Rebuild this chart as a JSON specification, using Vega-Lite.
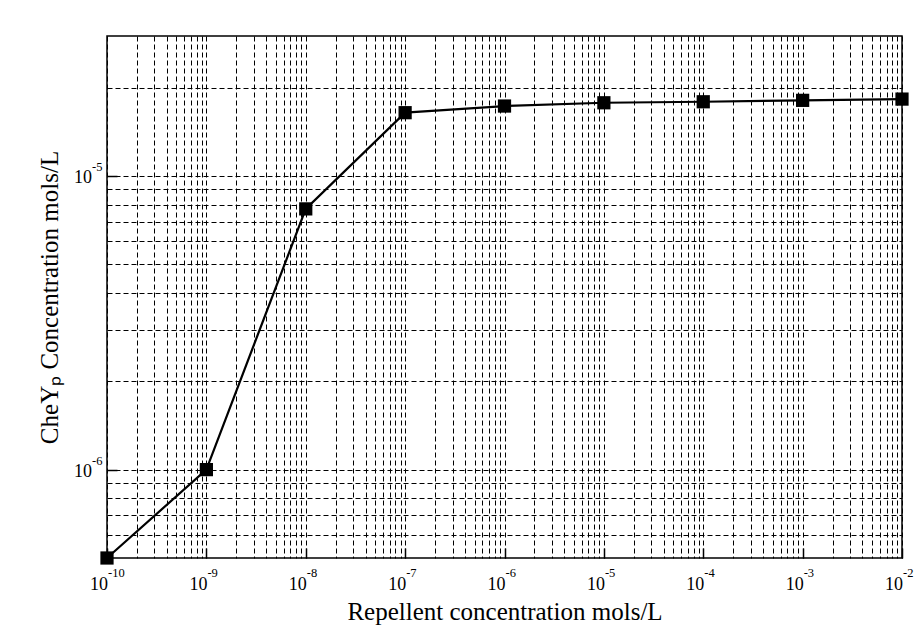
{
  "$schema": "https://vega.github.io/schema/vega-lite/v6.json",
  "width": 795,
  "height": 522,
  "autosize": {"type": "none"},
  "padding": {"left": 107, "top": 36, "right": 13, "bottom": 68},
  "background": "white",
  "config": {
    "view": {"stroke": "black", "strokeWidth": 1.5},
    "font": "Liberation Serif"
  },
  "datasets": {
    "curve": [
      {"conc": 1e-10, "chey": 5.0e-7},
      {"conc": 1e-9, "chey": 1.0e-6},
      {"conc": 1e-8, "chey": 7.73e-6},
      {"conc": 1e-7, "chey": 1.644e-5},
      {"conc": 1e-6, "chey": 1.732e-5},
      {"conc": 1e-5, "chey": 1.777e-5},
      {"conc": 1e-4, "chey": 1.791e-5},
      {"conc": 1e-3, "chey": 1.811e-5},
      {"conc": 1e-2, "chey": 1.829e-5}
    ],
    "xlabels": [
      {"conc": 1e-10, "exp": "-10"},
      {"conc": 1e-9, "exp": "-9"},
      {"conc": 1e-8, "exp": "-8"},
      {"conc": 1e-7, "exp": "-7"},
      {"conc": 1e-6, "exp": "-6"},
      {"conc": 1e-5, "exp": "-5"},
      {"conc": 1e-4, "exp": "-4"},
      {"conc": 1e-3, "exp": "-3"},
      {"conc": 1e-2, "exp": "-2"}
    ],
    "ylabels": [
      {"chey": 1e-6, "exp": "-6"},
      {"chey": 1e-5, "exp": "-5"}
    ]
  },
  "layer": [
    {
      "data": {"name": "curve"},
      "mark": {"type": "line", "color": "black", "strokeWidth": 2.2},
      "encoding": {
        "x": {
          "field": "conc", "type": "quantitative",
          "scale": {"type": "log", "domain": [1e-10, 1e-2], "nice": false},
          "axis": {
            "title": "Repellent concentration mols/L",
            "titleFont": "Liberation Serif", "titleFontSize": 25, "titleFontWeight": "normal", "titleColor": "black",
            "titleY": 61, "titleBaseline": "alphabetic",
            "values": [1e-10,2e-10,3e-10,4e-10,5e-10,6e-10,7e-10,8e-10,9e-10,
                       1e-9,2e-9,3e-9,4e-9,5e-9,6e-9,7e-9,8e-9,9e-9,
                       1e-8,2e-8,3e-8,4e-8,5e-8,6e-8,7e-8,8e-8,9e-8,
                       1e-7,2e-7,3e-7,4e-7,5e-7,6e-7,7e-7,8e-7,9e-7,
                       1e-6,2e-6,3e-6,4e-6,5e-6,6e-6,7e-6,8e-6,9e-6,
                       1e-5,2e-5,3e-5,4e-5,5e-5,6e-5,7e-5,8e-5,9e-5,
                       1e-4,2e-4,3e-4,4e-4,5e-4,6e-4,7e-4,8e-4,9e-4,
                       1e-3,2e-3,3e-3,4e-3,5e-3,6e-3,7e-3,8e-3,9e-3,
                       1e-2],
            "labels": false,
            "ticks": false, "domain": false,
            "grid": true, "gridColor": "black", "gridOpacity": 1, "gridWidth": 1, "gridDash": [5, 3]
          }
        },
        "y": {
          "field": "chey", "type": "quantitative",
          "scale": {"type": "log", "domain": [5e-7, 3e-5], "nice": false},
          "axis": {
            "title": "CheYₚ Concentration mols/L",
            "titleFont": "Liberation Serif", "titleFontSize": 25, "titleFontWeight": "normal", "titleColor": "black",
            "titleX": -50, "titleY": 261, "titleBaseline": "alphabetic", "titleAlign": "center", "titleAngle": -90,
            "values": [6e-7,7e-7,8e-7,9e-7,1e-6,2e-6,3e-6,4e-6,5e-6,6e-6,7e-6,8e-6,9e-6,1e-5,2e-5],
            "labels": false,
            "ticks": false, "domain": false,
            "grid": true, "gridColor": "black", "gridOpacity": 1, "gridWidth": 1, "gridDash": [5, 3]
          }
        }
      }
    },
    {
      "data": {"name": "curve"},
      "mark": {"type": "point", "shape": "square", "filled": true, "color": "black", "size": 175, "opacity": 1},
      "encoding": {
        "x": {
          "field": "conc", "type": "quantitative",
          "axis": {
            "orient": "bottom", "title": null, "labels": false, "grid": false, "domain": false,
            "values": [1e-10,1e-9,1e-8,1e-7,1e-6,1e-5,1e-4,1e-3,1e-2],
            "ticks": true, "tickSize": -10, "tickColor": "black", "tickWidth": 1.5
          }
        },
        "y": {
          "field": "chey", "type": "quantitative",
          "axis": {
            "orient": "left", "title": null, "labels": false, "grid": false, "domain": false,
            "values": [1e-6, 1e-5],
            "ticks": true, "tickSize": -10, "tickColor": "black", "tickWidth": 1.5
          }
        }
      }
    },
    {
      "data": {"name": "xlabels"},
      "mark": {"type": "text", "text": "10", "font": "Liberation Serif", "fontSize": 18, "color": "black", "align": "right", "baseline": "alphabetic", "dy": 32, "dx": 1},
      "encoding": {
        "x": {"field": "conc", "type": "quantitative", "axis": null},
        "y": {"datum": 5e-7, "type": "quantitative", "axis": null}
      }
    },
    {
      "data": {"name": "xlabels"},
      "mark": {"type": "text", "font": "Liberation Serif", "fontSize": 12.5, "color": "black", "align": "left", "baseline": "alphabetic", "dy": 19, "dx": 1},
      "encoding": {
        "text": {"field": "exp"},
        "x": {"field": "conc", "type": "quantitative", "axis": null},
        "y": {"datum": 5e-7, "type": "quantitative", "axis": null}
      }
    },
    {
      "data": {"name": "ylabels"},
      "mark": {"type": "text", "text": "10", "font": "Liberation Serif", "fontSize": 18, "color": "black", "align": "right", "baseline": "alphabetic", "dy": 7, "dx": -15},
      "encoding": {
        "x": {"datum": 1e-10, "type": "quantitative", "axis": null},
        "y": {"field": "chey", "type": "quantitative", "axis": null}
      }
    },
    {
      "data": {"name": "ylabels"},
      "mark": {"type": "text", "font": "Liberation Serif", "fontSize": 12.5, "color": "black", "align": "left", "baseline": "alphabetic", "dy": -5, "dx": -15},
      "encoding": {
        "text": {"field": "exp"},
        "x": {"datum": 1e-10, "type": "quantitative", "axis": null},
        "y": {"field": "chey", "type": "quantitative", "axis": null}
      }
    }
  ],
  "resolve": {"axis": {"x": "independent", "y": "independent"}}
}
